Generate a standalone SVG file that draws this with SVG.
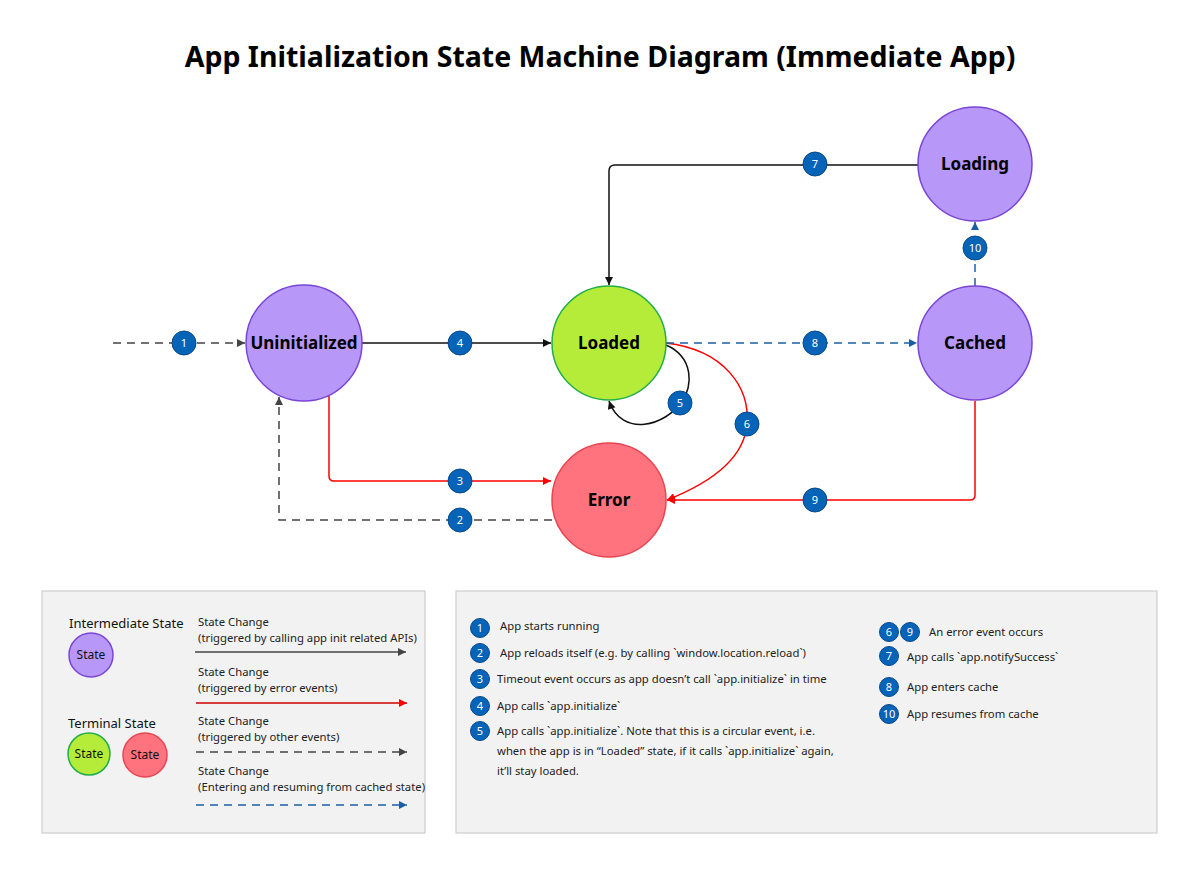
<svg xmlns="http://www.w3.org/2000/svg" width="1200" height="890" viewBox="0 0 1200 890">
<defs>
<style>
.title{font-family:"Segoe UI","Noto Sans","Open Sans",sans-serif;font-weight:700;font-size:28.5px;fill:#000}
.node{font-family:"Segoe UI","Noto Sans","Open Sans",sans-serif;font-weight:700;font-size:17px;fill:#000}
.badge circle{fill:#0563b8;stroke:#0a4a8c;stroke-width:1}
.badge text{font-family:"Segoe UI","Noto Sans",sans-serif;font-size:11px;fill:#fff}
.lg{font-family:"Segoe UI","Noto Sans","Open Sans",sans-serif;font-size:11.3px;fill:#222}
.lgh{font-family:"Segoe UI","Noto Sans","Open Sans",sans-serif;font-size:13px;fill:#111}
.st{font-family:"Segoe UI","Noto Sans",sans-serif;font-size:12px;fill:#111}
.inter{fill:#b797f8;stroke:#7a45d6;stroke-width:1.5}
.ok{fill:#b5ec3a;stroke:#22ad4b;stroke-width:1.5}
.err{fill:#ff737f;stroke:#e84550;stroke-width:1.5}
.c-black{fill:none;stroke:#111;stroke-width:1.5}
.c-red{fill:none;stroke:#f00;stroke-width:1.5}
.c-gray{fill:none;stroke:#444;stroke-width:1.5;stroke-dasharray:8 6}
.c-blue{fill:none;stroke:#1a5fa6;stroke-width:1.5;stroke-dasharray:8 6}
.box{fill:#f2f2f2;stroke:#c6c6c6;stroke-width:1}
</style>
<marker id="mk-black" viewBox="0 0 10 10" refX="10" refY="5" markerWidth="9" markerHeight="8" markerUnits="userSpaceOnUse" orient="auto"><path d="M0,0 L10,5 L0,10 z" fill="#111"/></marker>
<marker id="mk-red" viewBox="0 0 10 10" refX="10" refY="5" markerWidth="9" markerHeight="8" markerUnits="userSpaceOnUse" orient="auto"><path d="M0,0 L10,5 L0,10 z" fill="#f00"/></marker>
<marker id="mk-gray" viewBox="0 0 10 10" refX="10" refY="5" markerWidth="9" markerHeight="8" markerUnits="userSpaceOnUse" orient="auto"><path d="M0,0 L10,5 L0,10 z" fill="#444"/></marker>
<marker id="mk-blue" viewBox="0 0 10 10" refX="10" refY="5" markerWidth="9" markerHeight="8" markerUnits="userSpaceOnUse" orient="auto"><path d="M0,0 L10,5 L0,10 z" fill="#1a5fa6"/></marker>
</defs>
<rect width="1200" height="890" fill="#fff"/>
<text class="title" x="600" y="67" text-anchor="middle">App Initialization State Machine Diagram (Immediate App)</text>

<g id="connectors">
<path class="c-gray" d="M113 343 L245 343" marker-end="url(#mk-gray)"/>
<path class="c-black" d="M362 343 L551 343" marker-end="url(#mk-black)"/>
<path class="c-red" d="M329 396 L329 476 Q329 481 334 481 L551 481" marker-end="url(#mk-red)"/>
<path class="c-gray" d="M552 520 L279 520 L279 397" marker-end="url(#mk-gray)"/>
<path class="c-black" d="M666 345 C694 357 693 387 682 401 C666 426 622 438 609 401" marker-end="url(#mk-black)"/>
<path class="c-red" d="M666 343 C725 350 750 388 747 424 C744 462 705 485 667 500" marker-end="url(#mk-red)"/>
<path class="c-black" d="M918 165 L615 165 Q609 165 609 171 L609 285" marker-end="url(#mk-black)"/>
<path class="c-blue" d="M666 343 L917 343" marker-end="url(#mk-blue)"/>
<path class="c-red" d="M975 401 L975 495 Q975 500 970 500 L667 500" marker-end="url(#mk-red)"/>
<path class="c-blue" d="M975 286 L975 222" marker-end="url(#mk-blue)"/>
</g>

<g id="node-uninitialized"><circle class="inter" cx="304" cy="343" r="58"/><text class="node" x="304" y="349" text-anchor="middle">Uninitialized</text></g>
<g id="node-loaded"><circle class="ok" cx="609" cy="343" r="57"/><text class="node" x="609" y="349" text-anchor="middle">Loaded</text></g>
<g id="node-error"><circle class="err" cx="609" cy="500" r="57"/><text class="node" x="609" y="506" text-anchor="middle">Error</text></g>
<g id="node-loading"><circle class="inter" cx="975" cy="164" r="57"/><text class="node" x="975" y="170" text-anchor="middle">Loading</text></g>
<g id="node-cached"><circle class="inter" cx="975" cy="343" r="57"/><text class="node" x="975" y="349" text-anchor="middle">Cached</text></g>

<g id="badges">
<g class="badge"><circle cx="184" cy="343" r="12"/><text x="184" y="347" text-anchor="middle">1</text></g>
<g class="badge"><circle cx="460" cy="520" r="12"/><text x="460" y="524" text-anchor="middle">2</text></g>
<g class="badge"><circle cx="460" cy="481" r="12"/><text x="460" y="485" text-anchor="middle">3</text></g>
<g class="badge"><circle cx="460" cy="343" r="12"/><text x="460" y="347" text-anchor="middle">4</text></g>
<g class="badge"><circle cx="680" cy="403" r="12"/><text x="680" y="407" text-anchor="middle">5</text></g>
<g class="badge"><circle cx="747" cy="424" r="12"/><text x="747" y="428" text-anchor="middle">6</text></g>
<g class="badge"><circle cx="815" cy="164" r="12"/><text x="815" y="168" text-anchor="middle">7</text></g>
<g class="badge"><circle cx="815" cy="343" r="12"/><text x="815" y="347" text-anchor="middle">8</text></g>
<g class="badge"><circle cx="815" cy="500" r="12"/><text x="815" y="504" text-anchor="middle">9</text></g>
<g class="badge"><circle cx="975" cy="248" r="12"/><text x="975" y="252" text-anchor="middle">10</text></g>
</g>

<g id="legend-styles">
<rect class="box" x="42" y="591" width="383" height="242"/>
<text class="lgh" x="69" y="628">Intermediate State</text>
<circle class="inter" cx="91" cy="655" r="22"/><text class="st" x="91" y="659" text-anchor="middle">State</text>
<text class="lgh" x="68" y="728">Terminal State</text>
<circle class="ok" cx="89" cy="754" r="21"/><text class="st" x="89" y="758" text-anchor="middle">State</text>
<circle class="err" cx="145" cy="755" r="22"/><text class="st" x="145" y="759" text-anchor="middle">State</text>
<text class="lg" x="198" y="626">State Change</text>
<text class="lg" x="198" y="642">(triggered by calling app init related APIs)</text>
<path d="M195 652 L406 652" fill="none" stroke="#444" stroke-width="1.5" marker-end="url(#mk-gray)"/>
<text class="lg" x="198" y="676">State Change</text>
<text class="lg" x="198" y="692">(triggered by error events)</text>
<path d="M196 703 L407 703" fill="none" stroke="#c00" stroke-width="1.5" marker-end="url(#mk-red)"/>
<text class="lg" x="198" y="725">State Change</text>
<text class="lg" x="198" y="741">(triggered by other events)</text>
<path class="c-gray" d="M196 752 L407 752" marker-end="url(#mk-gray)"/>
<text class="lg" x="198" y="775">State Change</text>
<text class="lg" x="198" y="791">(Entering and resuming from cached state)</text>
<path class="c-blue" d="M196 805 L407 805" marker-end="url(#mk-blue)"/>
</g>

<g id="legend-events">
<rect class="box" x="456" y="591" width="701" height="242"/>
<g class="badge"><circle cx="480" cy="628" r="9.5"/><text x="480" y="632" text-anchor="middle">1</text></g>
<text class="lg" x="500" y="630">App starts running</text>
<g class="badge"><circle cx="480" cy="653" r="9.5"/><text x="480" y="657" text-anchor="middle">2</text></g>
<text class="lg" x="500" y="657">App reloads itself (e.g. by calling `window.location.reload`)</text>
<g class="badge"><circle cx="480" cy="679" r="9.5"/><text x="480" y="683" text-anchor="middle">3</text></g>
<text class="lg" x="497" y="683">Timeout event occurs as app doesn’t call `app.initialize` in time</text>
<g class="badge"><circle cx="480" cy="706" r="9.5"/><text x="480" y="710" text-anchor="middle">4</text></g>
<text class="lg" x="497" y="710">App calls `app.initialize`</text>
<g class="badge"><circle cx="480" cy="731" r="9.5"/><text x="480" y="735" text-anchor="middle">5</text></g>
<text class="lg" x="497" y="735">App calls `app.initialize`. Note that this is a circular event, i.e.</text>
<text class="lg" x="497" y="755">when the app is in “Loaded” state, if it calls `app.initialize` again,</text>
<text class="lg" x="497" y="775">it’ll stay loaded.</text>
<g class="badge"><circle cx="889" cy="632" r="9.5"/><text x="889" y="636" text-anchor="middle">6</text></g>
<g class="badge"><circle cx="910" cy="632" r="9.5"/><text x="910" y="636" text-anchor="middle">9</text></g>
<text class="lg" x="929" y="636">An error event occurs</text>
<g class="badge"><circle cx="889" cy="656" r="9.5"/><text x="889" y="660" text-anchor="middle">7</text></g>
<text class="lg" x="907" y="661">App calls `app.notifySuccess`</text>
<g class="badge"><circle cx="889" cy="687" r="9.5"/><text x="889" y="691" text-anchor="middle">8</text></g>
<text class="lg" x="907" y="691">App enters cache</text>
<g class="badge"><circle cx="889" cy="714" r="9.5"/><text x="889" y="718" text-anchor="middle">10</text></g>
<text class="lg" x="907" y="718">App resumes from cache</text>
</g>
</svg>
